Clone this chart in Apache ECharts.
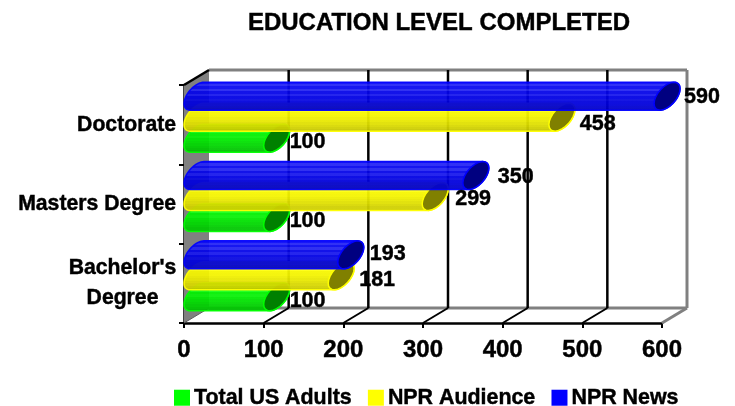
<!DOCTYPE html>
<html>
<head>
<meta charset="utf-8">
<style>html,body{margin:0;padding:0;background:#fff}#c{width:735px;height:406px}</style>
<script src="https://cdn.jsdelivr.net/npm/echarts@6/dist/echarts.min.js"></script>
</head>
<body>
<div id="c"></div>
<script>
// Survey values, bottom category first
const categories = ["Bachelor's\nDegree", 'Masters Degree', 'Doctorate'];
const totalUsAdults = [100, 100, 100];
const nprAudience = [181, 299, 458];
const nprNews = [193, 350, 590];
const xTicks = [0, 100, 200, 300, 400, 500, 600];

const FONT = '"Liberation Sans", Arial, sans-serif';
const HEAVY = { textBorderColor: '#000', textBorderWidth: 0.45 };
const DEPTH_X = 25, DEPTH_Y = 15;      // oblique projection of the back wall
const BAR_H = 28, CAP_W = 26;

// Look of each tube: position in its band, tones, and value label tweaks
const looks = [
  { name: 'Total US Adults', values: totalUsAdults, color: '#00ff00', cap: '#008000', bottom: 27.5,
    tones: ['#00ff00', '#18ff18', '#00f800', '#18ff18', '#00f000', '#08f008', '#00e800', '#00e000', '#00d800', '#00d000', '#00c800', '#00c000'],
    nudge: [[0, 4], [0, 4], [0, 4]] },
  { name: 'NPR Audience', values: nprAudience, color: '#ffff00', cap: '#808000', bottom: 6.5,
    tones: ['#ffff00', '#ffff18', '#fbfb00', '#ffff10', '#f6f600', '#f4f400', '#eeee00', '#e8e800', '#e0e000', '#d8d800', '#d0d000', '#c8c800'],
    nudge: [[5, 4], [7, 2.5], [5, 7]] },
  { name: 'NPR News', values: nprNews, color: '#0000ff', cap: '#000080', bottom: -14.5,
    tones: ['#0808f8', '#2424f4', '#0808f0', '#2424f0', '#0404e8', '#1818ec', '#0000e4', '#0808e0', '#0000dc', '#0000d8', '#0000d0', '#0000c8'],
    nudge: [[6, -1], [9, 2], [4, 1]] }
];

function stripes(tones) {
  const stops = [];
  tones.forEach((c, i) => {
    stops.push({ offset: i / tones.length, color: c });
    stops.push({ offset: (i + 1) / tones.length, color: c });
  });
  return { type: 'linear', x: 0, y: 0, x2: 0, y2: 1, colorStops: stops };
}

// Tilted ellipse outline between two parameter angles
function arc(cx, cy, from, to) {
  const pts = [], n = 24, ax = CAP_W / 2, ay = 7.5, by = 11.8;
  for (let i = 0; i <= n; i++) {
    const t = from + (to - from) * i / n;
    pts.push([cx + ax * Math.cos(t), cy - ay * Math.cos(t) - by * Math.sin(t)]);
  }
  return pts;
}

function tube(look) {
  return function (params, api) {
    const end = api.coord([api.value(0), api.value(1)]);
    const start = api.coord([0, api.value(1)]);
    const yc = end[1] + look.bottom - BAR_H / 2;
    const cxL = start[0] + CAP_W / 2, cxR = end[0] + CAP_W / 2;
    const tTop = Math.atan2(11.8, 7.5);     // angle of the ellipse's highest point
    const outline = arc(cxL, yc, tTop, tTop + Math.PI)
      .concat(arc(cxR, yc, tTop + Math.PI, tTop + 2 * Math.PI));
    return {
      type: 'group',
      children: [
        { type: 'polygon', shape: { points: outline },
          style: { fill: stripes(look.tones), stroke: look.color, lineWidth: 1.5, opacity: 0.94 } },
        { type: 'polygon', shape: { points: arc(cxR, yc, 0, 2 * Math.PI) },
          style: { fill: look.cap, stroke: look.color, lineWidth: 1.5 } }
      ]
    };
  };
}

function valueLabel(look) {
  return function (params, api) {
    const v = api.value(0);
    const end = api.coord([v, api.value(1)]);
    const n = look.nudge[params.dataIndex];
    return {
      type: 'text',
      style: {
        x: end[0] + CAP_W + n[0], y: end[1] + look.bottom - BAR_H / 2 + n[1],
        text: String(v), fill: '#000', stroke: '#000', lineWidth: 0.45,
        font: 'bold 21.5px ' + FONT, align: 'left', verticalAlign: 'middle'
      }
    };
  };
}

// Left wall and the back wall frame
function walls(params, api) {
  const t0 = params.coordSys.y, b0 = params.coordSys.y + params.coordSys.height;
  const x0 = params.coordSys.x, x1 = params.coordSys.x + params.coordSys.width;
  const gray = { stroke: '#808080', lineWidth: 3 };
  const line = (a, b, c, d, style) => ({ type: 'line', shape: { x1: a, y1: b, x2: c, y2: d }, style });
  return {
    type: 'group',
    children: [
      { type: 'polygon', shape: { points: [[x0, t0], [x0 + DEPTH_X, t0 - DEPTH_Y], [x0 + DEPTH_X, b0 - DEPTH_Y], [x0, b0]] },
        style: { fill: '#808080' } },
      line(x0 + DEPTH_X, t0 - DEPTH_Y, x1 + DEPTH_X, t0 - DEPTH_Y, gray),
      line(x1 + DEPTH_X, t0 - DEPTH_Y, x1 + DEPTH_X, b0 - DEPTH_Y, gray),
      line(x0 + DEPTH_X, b0 - DEPTH_Y, x1 + DEPTH_X, b0 - DEPTH_Y, gray),
      line(x1, b0, x1 + DEPTH_X, b0 - DEPTH_Y, gray),
      line(x0, b0, x0 + DEPTH_X, b0 - DEPTH_Y, { stroke: '#606060', lineWidth: 1 }),
      line(x0, t0, x0 + DEPTH_X, t0 - DEPTH_Y, { stroke: '#000', lineWidth: 2.5 })
    ]
  };
}

// Grid line on the back wall plus its run across the floor
function wallGrid(params, api) {
  const v = api.value(0);
  const x = api.coord([v, 0])[0];
  const t0 = params.coordSys.y, b0 = params.coordSys.y + params.coordSys.height;
  if (v === 0 || v === 600) return { type: 'group', children: [] };
  return {
    type: 'group',
    children: [
      { type: 'line', shape: { x1: x, y1: b0, x2: x + DEPTH_X, y2: b0 - DEPTH_Y },
        style: { stroke: '#000', lineWidth: 2 } },
      { type: 'line', shape: { x1: x + DEPTH_X, y1: t0 - DEPTH_Y, x2: x + DEPTH_X, y2: b0 - DEPTH_Y },
        style: { stroke: '#000', lineWidth: 2.5 } }
    ]
  };
}

const series = [
  { type: 'custom', name: 'walls', z: 1, silent: true, renderItem: walls, data: [[0, 0]], encode: { x: 0, y: 1 } },
  { type: 'custom', name: 'wallGrid', z: 1, silent: true, renderItem: wallGrid,
    data: xTicks.map(t => [t, 0]), encode: { x: 0, y: 1 } }
];
looks.forEach((look, k) => {
  series.push({
    type: 'custom', name: look.name, z: 3 + k, renderItem: tube(look),
    itemStyle: { color: look.color },
    data: look.values.map((v, i) => [v, i]), encode: { x: 0, y: 1 }
  });
});
looks.forEach(look => {
  series.push({
    type: 'custom', name: look.name + ' values', z: 10, silent: true, renderItem: valueLabel(look),
    data: look.values.map((v, i) => [v, i]), encode: { x: 0, y: 1 }
  });
});

const chart = echarts.init(document.getElementById('c'), null, { renderer: 'canvas' });
chart.setOption({
  animation: false,
  backgroundColor: '#fff',
  title: {
    text: 'EDUCATION LEVEL COMPLETED', left: 434, top: 6, textAlign: 'center',
    textStyle: Object.assign({ fontFamily: FONT, fontWeight: 'bold', fontSize: 24, color: '#000' }, HEAVY)
  },
  legend: {
    data: looks.map(l => l.name), left: 174, top: 387, padding: 0, itemWidth: 16, itemHeight: 16, itemGap: 16,
    icon: 'rect', selectedMode: false,
    textStyle: Object.assign({ fontFamily: FONT, fontWeight: 'bold', fontSize: 21.4, color: '#000', padding: [0, 0, 0, -1] }, HEAVY)
  },
  grid: { left: 184, top: 85, width: 478, height: 238 },
  xAxis: {
    type: 'value', min: 0, max: 600, interval: 100,
    splitLine: { show: false },
    axisLine: { show: true, lineStyle: { color: '#000', width: 2.5 } },
    axisTick: { show: true, length: 5, lineStyle: { color: '#000', width: 2 } },
    axisLabel: Object.assign({ margin: 15, fontFamily: FONT, fontWeight: 'bold', fontSize: 24, color: '#000' }, HEAVY)
  },
  yAxis: {
    type: 'category', data: categories,
    axisLine: { show: true, onZero: false, lineStyle: { color: '#000', width: 2.5 } },
    axisTick: { show: true, length: 5, lineStyle: { color: '#000', width: 2 } },
    axisLabel: Object.assign({
      margin: 8, fontFamily: FONT, fontWeight: 'bold', fontSize: 21.2, color: '#000',
      formatter: s => s.includes('\n') ? s.split('\n').map(p => '{c|' + p + '}').join('\n') : s,
      rich: { c: Object.assign({ width: 107, align: 'center', fontFamily: FONT, fontWeight: 'bold', fontSize: 21.2, lineHeight: 30, color: '#000' }, HEAVY) }
    }, HEAVY)
  },
  series
});
</script>
</body>
</html>
